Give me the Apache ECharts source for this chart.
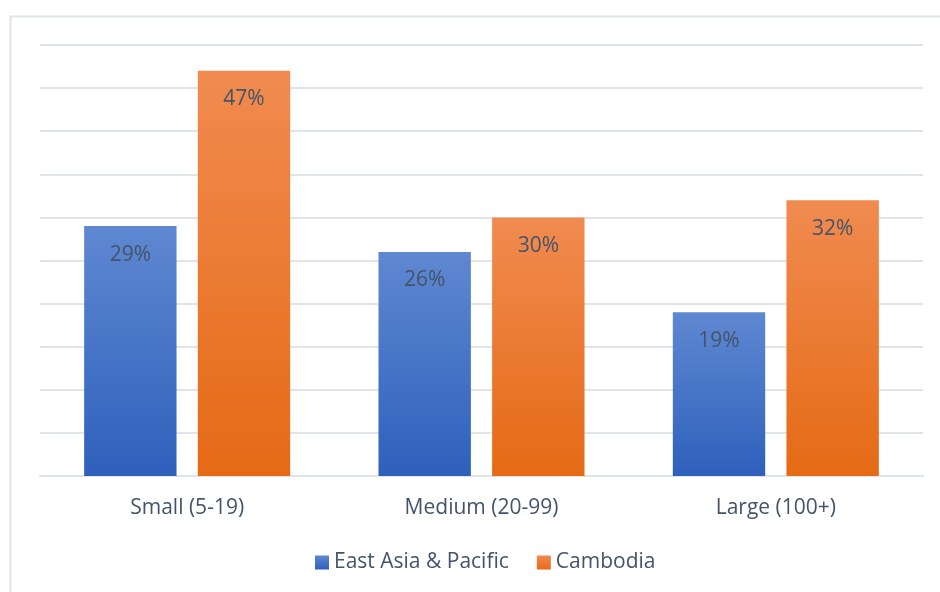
<!DOCTYPE html>
<html>
<head>
<meta charset="utf-8">
<script src="https://cdn.jsdelivr.net/npm/echarts@6/dist/echarts.min.js"></script>
<style>html,body{margin:0;padding:0;background:#fff;}#c{width:940px;height:592px;}</style>
</head>
<body>
<div id="c"></div>
<script>
const categories = ['Small (5-19)', 'Medium (20-99)', 'Large (100+)'];
const seriesNames = ['East Asia & Pacific', 'Cambodia'];
const eastAsiaValues = [29, 26, 19];
const cambodiaValues = [47, 30, 32];

const textColor = '#44546a';
const fontFamily = '"Open Sans", sans-serif';

function grad(top, bottom) {
  return new echarts.graphic.LinearGradient(0, 0, 0, 1, [
    {offset: 0, color: top}, {offset: 1, color: bottom}
  ]);
}

const chart = echarts.init(document.getElementById('c'));
const labelCfg = {
  show: true, position: 'insideTop', distance: 18,
  formatter: p => p.value + '%', color: textColor, fontSize: 21, fontFamily
};
chart.setOption({
  animation: false,
  graphic: [{
    type: 'rect', shape: {x: 10.5, y: 16.5, width: 940, height: 600},
    style: {fill: 'none', stroke: '#dfe3ea', lineWidth: 2}, silent: true
  }],
  grid: {left: 40, right: 17, top: 45, bottom: 116},
  legend: {
    data: seriesNames, bottom: 14, left: 310,
    itemWidth: 14, itemHeight: 14, itemGap: 28, itemTextGap: 6,
    icon: 'rect',
    textStyle: {color: textColor, fontSize: 21, fontFamily}
  },
  xAxis: {
    type: 'category', data: categories,
    axisLine: {lineStyle: {color: '#dfe3ea', width: 2}},
    axisTick: {show: false},
    axisLabel: {color: textColor, fontSize: 21, fontFamily, margin: 22}
  },
  yAxis: {
    type: 'value', min: 0, max: 50, interval: 5,
    axisLabel: {show: false}, axisLine: {show: false}, axisTick: {show: false},
    splitLine: {lineStyle: {color: '#e1e4ea', width: 2}}
  },
  series: [{
    name: seriesNames[0], type: 'bar', data: eastAsiaValues,
    barGap: '23%', barCategoryGap: '30%',
    itemStyle: {color: grad('#5f88d1', '#2e60bc')},
    label: labelCfg
  }, {
    name: seriesNames[1], type: 'bar', data: cambodiaValues,
    itemStyle: {color: grad('#f18b50', '#e56a15')},
    label: labelCfg
  }]
});
</script>
</body>
</html>
